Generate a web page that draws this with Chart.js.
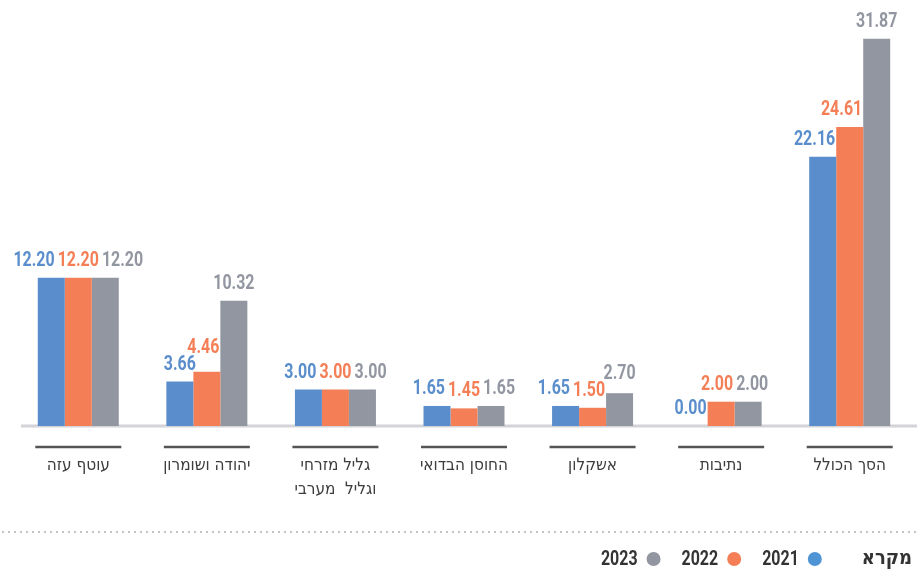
<!DOCTYPE html>
<html lang="he">
<head>
<meta charset="utf-8">
<style>
  html, body { margin: 0; padding: 0; background: #fff; }
  #wrap { width: 917px; height: 572px; }
</style>
<script src="https://cdn.jsdelivr.net/npm/chart.js@4.4.1/dist/chart.umd.min.js"></script>
</head>
<body>
<div id="wrap"><canvas id="chart" width="917" height="572"></canvas></div>
<script>
// data
const categories = ["עוטף עזה", "יהודה ושומרון", ["גליל מזרחי", "וגליל  מערבי"], "החוסן הבדואי", "אשקלון", "נתיבות", "הסך הכולל"];
const years = ["2021", "2022", "2023"];
const values2021 = [12.20, 3.66, 3.00, 1.65, 1.65, 0.00, 22.16];
const values2022 = [12.20, 4.46, 3.00, 1.45, 1.50, 2.00, 24.61];
const values2023 = [12.20, 10.32, 3.00, 1.65, 2.70, 2.00, 31.87];
const legendTitle = "מקרא";

const colors = ["#5a8dcb", "#f47f57", "#9296a0"];
const numFont = "bold 21px Roboto, sans-serif";
const narrow = 0.76; // horizontal squeeze to get a condensed look
const catFont = "17px 'DejaVu Sans Condensed', 'DejaVu Sans', sans-serif";

// draw condensed text
function narrowText(ctx, txt, x, y, align) {
	ctx.save();
	ctx.translate(x, y);
	ctx.scale(narrow, 1);
	ctx.textAlign = align;
	ctx.fillText(txt, 0, 0);
	ctx.restore();
}

// draws baseline, category labels, value labels and the legend
const decorPlugin = {
	id: "decor",
	beforeDatasetsDraw(chart) {
		const { ctx, chartArea } = chart;
		ctx.save();
		ctx.strokeStyle = "#d3d3d8";
		ctx.lineWidth = 3;
		ctx.beginPath();
		ctx.moveTo(chartArea.left + 7, chartArea.bottom);
		ctx.lineTo(chart.width, chartArea.bottom);
		ctx.stroke();
		ctx.restore();
	},
	afterDatasetsDraw(chart) {
		const { ctx, chartArea } = chart;
		const xScale = chart.scales.x;
		ctx.save();
		ctx.direction = "rtl";

		// category labels with a dark bar above each
		categories.forEach((cat, i) => {
			const cx = xScale.getPixelForValue(i);
			ctx.strokeStyle = "#555";
			ctx.lineWidth = 2.5;
			ctx.beginPath();
			ctx.moveTo(cx - 43, chartArea.bottom + 21);
			ctx.lineTo(cx + 43, chartArea.bottom + 21);
			ctx.stroke();
			ctx.fillStyle = "#3d3d3d";
			ctx.font = catFont;
			ctx.textAlign = "center";
			ctx.textBaseline = "middle";
			const lines = Array.isArray(cat) ? cat : [cat];
			lines.forEach((ln, k) => ctx.fillText(ln, cx, chartArea.bottom + 40 + k * 24));
		});

		// value labels, spread apart where they collide
		ctx.direction = "ltr";
		ctx.font = numFont;
		const textH = 15;
		const gap = 3;
		for (let i = 0; i < categories.length; i++) {
			const bars = chart.data.datasets.map((ds, d) => chart.getDatasetMeta(d).data[i]);
			const boxes = chart.data.datasets.map((ds, d) => {
				const txt = ds.data[i].toFixed(2);
				const w = ctx.measureText(txt).width * narrow;
				return { txt, w, x: bars[d].x, bottom: bars[d].y - 12, color: colors[d] };
			});
			// clusters of labels at the same height that overlap
			let start = 0;
			while (start < boxes.length) {
				let end = start;
				while (end + 1 < boxes.length &&
					Math.abs(boxes[end + 1].bottom - boxes[end].bottom) <= 4 &&
					(boxes[end + 1].x - boxes[end].x) < (boxes[end].w + boxes[end + 1].w) / 2 + gap) {
					end++;
				}
				if (end > start) {
					const grp = boxes.slice(start, end + 1);
					const total = grp.reduce((s, b) => s + b.w, 0) + gap * (grp.length - 1);
					const mid = grp.reduce((s, b) => s + b.x, 0) / grp.length;
					let x = mid - total / 2;
					grp.forEach((b) => { b.x = x + b.w / 2; x += b.w + gap; });
				}
				start = end + 1;
			}
			// lift labels that still overlap a neighbour at a different height
			for (let k = 0; k + 1 < boxes.length; k++) {
				const a = boxes[k], b = boxes[k + 1];
				const hOverlap = (b.x - a.x) < (a.w + b.w) / 2 + 2;
				const vOverlap = Math.abs(a.bottom - b.bottom) < textH + 2;
				if (hOverlap && vOverlap && Math.abs(a.bottom - b.bottom) > 4) {
					const hi = a.bottom < b.bottom ? a : b;
					const lo = hi === a ? b : a;
					hi.bottom = lo.bottom - textH - 2;
				}
			}
			// keep labels off a taller bar to their right
			for (let k = boxes.length - 2; k >= 0; k--) {
				const b = boxes[k];
				const next = bars[k + 1];
				const barLeft = next.x - next.width / 2;
				if (next.y < b.bottom - 2 && b.x + b.w / 2 > barLeft - 1) {
					const shift = b.x + b.w / 2 - (barLeft - 1);
					b.x -= shift;
					// push same-level labels on the left along
					for (let j = k - 1; j >= 0; j--) {
						const a = boxes[j], r = boxes[j + 1];
						if (Math.abs(a.bottom - r.bottom) < textH && a.x + a.w / 2 > r.x - r.w / 2 - gap) {
							a.x = r.x - r.w / 2 - gap - a.w / 2;
						}
					}
				}
			}
			ctx.textBaseline = "alphabetic";
			boxes.forEach((b) => {
				ctx.fillStyle = b.color;
				narrowText(ctx, b.txt, b.x, b.bottom, "center");
			});
		}

		// dotted separator
		ctx.fillStyle = "#b0b0b0";
		for (let x = 3; x < chart.width; x += 6) {
			ctx.beginPath();
			ctx.arc(x, 532, 1, 0, Math.PI * 2);
			ctx.fill();
		}

		// legend, right to left
		const ly = 559;
		ctx.textBaseline = "middle";
		ctx.textAlign = "right";
		ctx.fillStyle = "#333";
		ctx.direction = "rtl";
		ctx.font = "bold 20px 'DejaVu Sans Condensed', 'DejaVu Sans', sans-serif";
		let xr = 912;
		ctx.fillText(legendTitle, xr, ly);
		xr -= ctx.measureText(legendTitle).width + 40;
		ctx.direction = "ltr";
		ctx.font = "bold 21px Roboto, sans-serif";
		years.forEach((y, d) => {
			ctx.fillStyle = d === 0 ? "#4f95d6" : colors[d];
			ctx.beginPath();
			ctx.arc(xr - 7, ly, 7, 0, Math.PI * 2);
			ctx.fill();
			ctx.fillStyle = "#333";
			const tx = xr - 16 - 7;
			narrowText(ctx, y, tx, ly + 1, "right");
			xr = tx - ctx.measureText(y).width * narrow - 21;
		});
		ctx.restore();
	}
};

new Chart(document.getElementById("chart"), {
	type: "bar",
	data: {
		labels: categories,
		datasets: [
			{ label: years[0], data: values2021, backgroundColor: colors[0] },
			{ label: years[1], data: values2022, backgroundColor: colors[1] },
			{ label: years[2], data: values2023, backgroundColor: colors[2] },
		],
	},
	options: {
		responsive: false,
		animation: false,
		layout: { padding: { top: 13, bottom: 146, left: 14, right: 3 } },
		datasets: { bar: { categoryPercentage: 0.63, barPercentage: 1 } },
		scales: {
			x: { display: false },
			y: { display: false, min: 0, max: 34 },
		},
		plugins: {
			legend: { display: false },
			tooltip: { enabled: false },
		},
	},
	plugins: [decorPlugin],
});
</script>
</body>
</html>
